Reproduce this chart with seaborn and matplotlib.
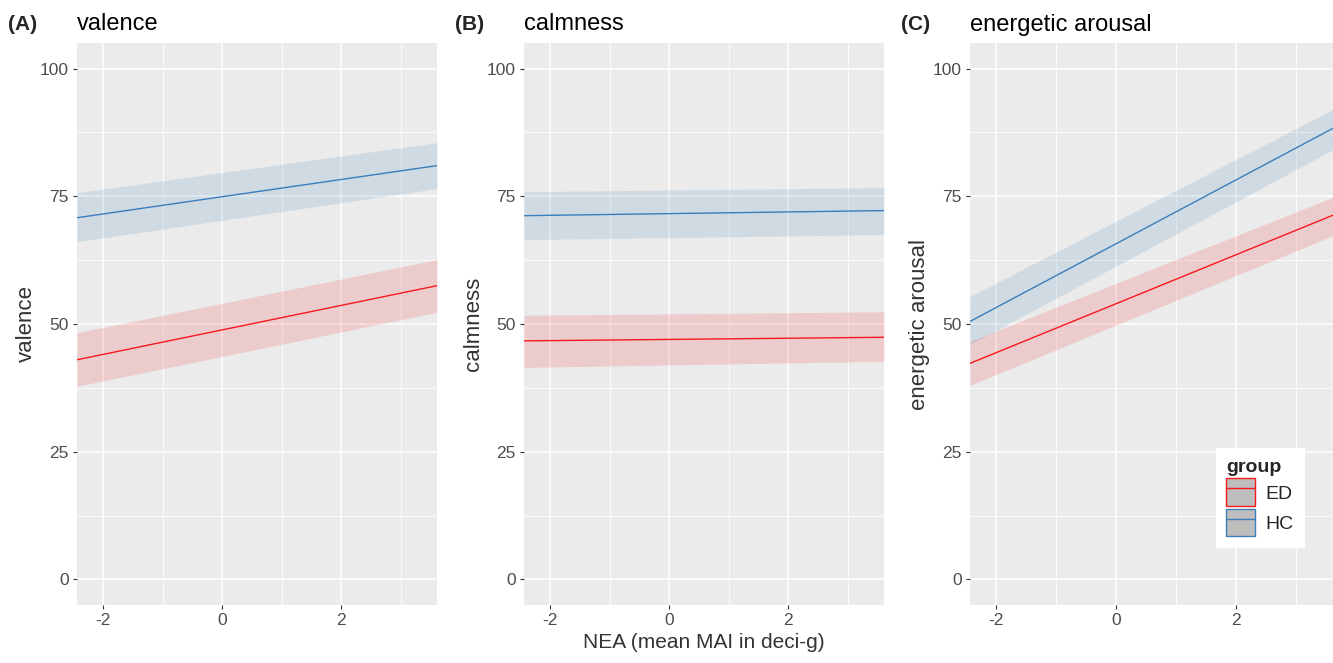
import numpy as np
import pandas as pd
import matplotlib
matplotlib.use("Agg")
import matplotlib.pyplot as plt
from matplotlib.patches import Patch
from matplotlib.lines import Line2D
from matplotlib.ticker import MultipleLocator
import seaborn as sns

# ---- data ----
nea_x = [-2.44, 3.61]
groups = ["ED", "HC"]

valence_ED = [43.0, 57.5]
valence_ED_lo = [37.8, 52.3]
valence_ED_hi = [48.3, 62.6]
valence_HC = [70.8, 81.0]
valence_HC_lo = [66.1, 76.5]
valence_HC_hi = [75.7, 85.5]

calm_ED = [46.7, 47.4]
calm_ED_lo = [41.5, 42.7]
calm_ED_hi = [51.7, 52.4]
calm_HC = [71.2, 72.2]
calm_HC_lo = [66.5, 67.5]
calm_HC_hi = [75.9, 76.7]

energy_ED = [42.3, 71.3]
energy_ED_lo = [38.0, 67.3]
energy_ED_hi = [46.6, 74.8]
energy_HC = [50.5, 88.3]
energy_HC_lo = [46.0, 84.1]
energy_HC_hi = [55.4, 92.0]

panel_tags = ["(A)", "(B)", "(C)"]
panel_titles = ["valence", "calmness", "energetic arousal"]
x_label = "NEA (mean MAI in deci-g)"

colors = {"ED": "#F8191C", "HC": "#3A7EBB"}

panels = [
    (valence_ED, valence_ED_lo, valence_ED_hi, valence_HC, valence_HC_lo, valence_HC_hi),
    (calm_ED, calm_ED_lo, calm_ED_hi, calm_HC, calm_HC_lo, calm_HC_hi),
    (energy_ED, energy_ED_lo, energy_ED_hi, energy_HC, energy_HC_lo, energy_HC_hi),
]

sns.set_theme(style="darkgrid")
plt.rcParams["font.family"] = ["Liberation Sans", "DejaVu Sans"]
plt.rcParams["axes.unicode_minus"] = False

fig = plt.figure(figsize=(13.33, 6.63), dpi=100)
lefts = [77 / 1333, 524 / 1333, 970 / 1333]
widths = [360 / 1333, 360 / 1333, 363 / 1333]
bottom = 1 - 605 / 663
height = (605 - 43) / 663

for i, (data, tag, title) in enumerate(zip(panels, panel_tags, panel_titles)):
    ax = fig.add_axes([lefts[i], bottom, widths[i], height])
    ax.set_facecolor("#EBEBEB")
    ed, ed_lo, ed_hi, hc, hc_lo, hc_hi = data
    df = pd.DataFrame({
        "x": nea_x * 2,
        "y": list(ed) + list(hc),
        "group": ["ED"] * len(nea_x) + ["HC"] * len(nea_x),
    })
    for g, lo, hi in [("ED", ed_lo, ed_hi), ("HC", hc_lo, hc_hi)]:
        ax.fill_between(nea_x, lo, hi, color=colors[g], alpha=0.15, linewidth=0, zorder=2)
    sns.lineplot(data=df, x="x", y="y", hue="group", palette=colors, ax=ax,
                 linewidth=1.0, legend=False, zorder=3)
    ax.set_xlim(-2.44, 3.61)
    ax.set_ylim(-5, 105)
    ax.xaxis.set_major_locator(MultipleLocator(2))
    ax.xaxis.set_minor_locator(MultipleLocator(1))
    ax.yaxis.set_major_locator(MultipleLocator(25))
    ax.yaxis.set_minor_locator(MultipleLocator(12.5))
    ax.grid(which="major", color="white", linewidth=1.1)
    ax.grid(which="minor", color="white", linewidth=0.55)
    for s in ax.spines.values():
        s.set_visible(False)
    ax.tick_params(axis="both", which="major", length=3, width=0.8, color="#333333",
                   labelsize=12.5, labelcolor="#4D4D4D", pad=3, left=True, bottom=True)
    ax.tick_params(axis="both", which="minor", length=0)
    ax.set_ylabel(title, fontsize=16, color="#333333", labelpad=2)
    ax.set_xlabel(x_label if i == 1 else "", fontsize=15, color="#333333", labelpad=3)
    ax.set_title(title, loc="left", fontsize=17, color="black", pad=9)
    fig.text(lefts[i] - 69 / 1333, 1 - 25 / 663, tag, fontsize=15, fontweight="bold",
             va="center", ha="left")
    if i == 2:
        handles = []
        for g in groups:
            handles.append((Patch(facecolor="#BEBEBE", edgecolor=colors[g], linewidth=1.0),
                            Line2D([0], [0], color=colors[g], linewidth=1.0)))
        leg = ax.legend(handles, groups, title="group", loc="lower right",
                        bbox_to_anchor=(0.920, 0.103), frameon=True, fancybox=False,
                        framealpha=1, facecolor="white", edgecolor="white", fontsize=14,
                        title_fontproperties={"weight": "bold", "size": 14},
                        handlelength=1.5, handleheight=1.8, handletextpad=0.5,
                        borderpad=0.55, labelspacing=0.15, borderaxespad=0)
        leg._legend_box.align = "left"

fig.savefig("out.png", dpi=100)
